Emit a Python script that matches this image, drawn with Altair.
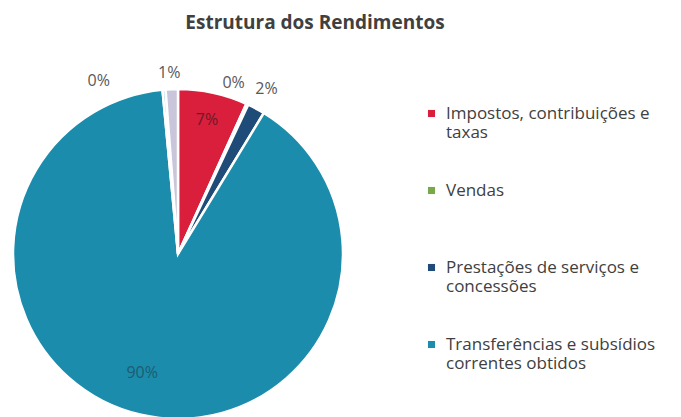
import altair as alt
import pandas as pd

# ---- data ----
categories = [
    "Impostos, contribuições e taxas",
    "Vendas",
    "Prestações de serviços e concessões",
    "Transferências e subsídios correntes obtidos",
    "Rendimentos de propriedade",
    "Outros rendimentos",
]
values = [6.8, 0.2, 1.7, 89.8, 0.3, 1.2]  # percent
legend_items = categories[:4]
legend_lines = {
    "Impostos, contribuições e taxas": ["Impostos, contribuições e", "taxas"],
    "Vendas": ["Vendas", " "],
    "Prestações de serviços e concessões": ["Prestações de serviços e", "concessões"],
    "Transferências e subsídios correntes obtidos": ["Transferências e subsídios", "correntes obtidos"],
}

# ---- styles ----
colors = ["#DA1F3D", "#79A84B", "#1F4B79", "#1B8CAB", "#8CCFE0", "#C9C5DA"]
FONT = "Open Sans"
# label placement per slice: (radius, dx, dy, color)
label_style = [
    (137, 0, 0, "#6b1a26"),
    (180, -20, -8, "#595959"),
    (187, 0, 0, "#595959"),
    (124, -8, -2, "#1d5d72"),
    (180, -64, 6, "#595959"),
    (181, -2, 0, "#595959"),
]

df = pd.DataFrame({
    "cat": categories,
    "value": values,
    "pct": [v / 100 for v in values],
    "idx": list(range(len(categories))),
})

theta = alt.Theta("value:Q", stack=True)
order = alt.Order("idx:Q", sort="ascending")

label_expr_parts = []
for k, lines in legend_lines.items():
    arr = "[" + ",".join("'" + s + "'" for s in lines) + "]"
    label_expr_parts.append(f"datum.label == '{k}' ? {arr} : ")
label_expr = "".join(label_expr_parts) + "datum.label"

arcs = alt.Chart(df).mark_arc(outerRadius=165, stroke="white", strokeWidth=2.5).encode(
    theta=theta,
    order=order,
    color=alt.Color(
        "cat:N",
        scale=alt.Scale(domain=categories, range=colors),
        legend=alt.Legend(
            title=None,
            values=legend_items,
            orient="none",
            legendX=407,
            legendY=66,
            symbolType="square",
            symbolSize=50,
            symbolStrokeWidth=0,
            labelFont=FONT,
            labelFontSize=17,
            labelColor="#404040",
            labelLimit=400,
            labelExpr=label_expr,
            rowPadding=40,
            labelOffset=6,
        ),
    ),
)

layers = [arcs]
for i, (r, dx, dy, col) in enumerate(label_style):
    t = alt.Chart(df).transform_calculate(
        lbl=f"datum.idx == {i} ? format(datum.pct, '.0%') : ''"
    ).mark_text(
        radius=r, dx=dx, dy=dy, font=FONT, fontSize=16, color=col
    ).encode(theta=theta, order=order, text="lbl:N")
    layers.append(t)

chart = alt.layer(*layers).properties(
    width=324,
    height=430,
    padding={"left": 0, "top": 6, "right": 0, "bottom": 0},
    title=alt.TitleParams(
        "Estrutura dos Rendimentos",
        font=FONT,
        fontSize=19,
        fontWeight="bold",
        color="#404040",
        anchor="middle",
        dx=137,
        offset=6,
    ),
).configure_view(stroke=None)

chart.save("out.html", embed_options={"renderer": "svg", "actions": False})
